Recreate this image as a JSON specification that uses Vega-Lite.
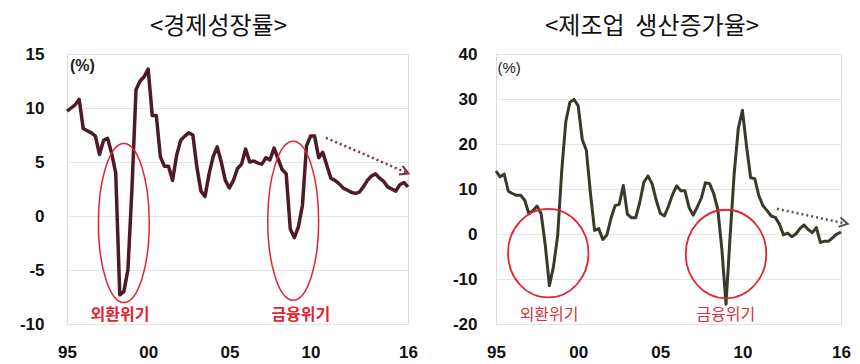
{
  "$schema": "https://vega.github.io/schema/vega-lite/v6.json",
  "background": "white",
  "padding": {"left": 18, "top": 14, "right": 0, "bottom": 0},
  "spacing": 33,
  "config": {
    "view": {"stroke": "#dcdcdc", "strokeWidth": 1},
    "axis": {"title": null, "labelFont": "Liberation Sans", "labelFontWeight": "bold", "labelFontSize": 17, "labelColor": "#111111", "domain": false, "ticks": false, "tickSize": 0},
    "axisX": {"grid": false, "labelPadding": 20, "labelFlush": false},
    "axisY": {"grid": true, "gridColor": "#e4e4e4", "gridWidth": 1, "labelExpr": "toString(datum.value)"}
  },
  "datasets": {
    "gdp": [
      {"t": 1995.00, "v": 9.7}, {"t": 1995.25, "v": 10.0}, {"t": 1995.50, "v": 10.3}, {"t": 1995.75, "v": 10.8},
      {"t": 1996.00, "v": 8.1}, {"t": 1996.25, "v": 7.9}, {"t": 1996.50, "v": 7.7}, {"t": 1996.75, "v": 7.4},
      {"t": 1997.00, "v": 5.7}, {"t": 1997.25, "v": 7.0}, {"t": 1997.50, "v": 7.2}, {"t": 1997.75, "v": 5.8},
      {"t": 1998.00, "v": 4.0}, {"t": 1998.25, "v": -7.3}, {"t": 1998.50, "v": -7.0}, {"t": 1998.75, "v": -5.0},
      {"t": 1999.00, "v": 2.5}, {"t": 1999.25, "v": 11.7}, {"t": 1999.50, "v": 12.5}, {"t": 1999.75, "v": 12.9},
      {"t": 2000.00, "v": 13.6}, {"t": 2000.25, "v": 9.3}, {"t": 2000.50, "v": 9.3}, {"t": 2000.75, "v": 5.5},
      {"t": 2001.00, "v": 4.6}, {"t": 2001.25, "v": 4.6}, {"t": 2001.50, "v": 3.3}, {"t": 2001.75, "v": 5.6},
      {"t": 2002.00, "v": 7.0}, {"t": 2002.25, "v": 7.4}, {"t": 2002.50, "v": 7.7}, {"t": 2002.75, "v": 7.5},
      {"t": 2003.00, "v": 4.5}, {"t": 2003.25, "v": 2.3}, {"t": 2003.50, "v": 1.8}, {"t": 2003.75, "v": 3.9},
      {"t": 2004.00, "v": 5.5}, {"t": 2004.25, "v": 6.4}, {"t": 2004.50, "v": 5.0}, {"t": 2004.75, "v": 3.3},
      {"t": 2005.00, "v": 2.6}, {"t": 2005.25, "v": 3.3}, {"t": 2005.50, "v": 4.4}, {"t": 2005.75, "v": 4.8},
      {"t": 2006.00, "v": 6.2}, {"t": 2006.25, "v": 5.0}, {"t": 2006.50, "v": 5.1}, {"t": 2006.75, "v": 4.9},
      {"t": 2007.00, "v": 4.8}, {"t": 2007.25, "v": 5.4}, {"t": 2007.50, "v": 5.2}, {"t": 2007.75, "v": 6.3},
      {"t": 2008.00, "v": 5.3}, {"t": 2008.25, "v": 4.3}, {"t": 2008.50, "v": 3.9}, {"t": 2008.75, "v": -1.2},
      {"t": 2009.00, "v": -2.0}, {"t": 2009.25, "v": -1.0}, {"t": 2009.50, "v": 1.0}, {"t": 2009.75, "v": 6.5},
      {"t": 2010.00, "v": 7.4}, {"t": 2010.25, "v": 7.4}, {"t": 2010.50, "v": 5.4}, {"t": 2010.75, "v": 5.9},
      {"t": 2011.00, "v": 4.7}, {"t": 2011.25, "v": 3.5}, {"t": 2011.50, "v": 3.3}, {"t": 2011.75, "v": 3.0},
      {"t": 2012.00, "v": 2.6}, {"t": 2012.25, "v": 2.4}, {"t": 2012.50, "v": 2.2}, {"t": 2012.75, "v": 2.1},
      {"t": 2013.00, "v": 2.2}, {"t": 2013.25, "v": 2.7}, {"t": 2013.50, "v": 3.3}, {"t": 2013.75, "v": 3.7},
      {"t": 2014.00, "v": 3.9}, {"t": 2014.25, "v": 3.5}, {"t": 2014.50, "v": 3.2}, {"t": 2014.75, "v": 2.7},
      {"t": 2015.00, "v": 2.5}, {"t": 2015.25, "v": 2.3}, {"t": 2015.50, "v": 2.9}, {"t": 2015.75, "v": 3.1},
      {"t": 2016.00, "v": 2.7}
    ],
    "mfg": [
      {"t": 1995.00, "v": 14.0}, {"t": 1995.25, "v": 12.7}, {"t": 1995.50, "v": 13.3}, {"t": 1995.75, "v": 9.5},
      {"t": 1996.00, "v": 9.0}, {"t": 1996.25, "v": 8.6}, {"t": 1996.50, "v": 8.6}, {"t": 1996.75, "v": 7.5},
      {"t": 1997.00, "v": 4.5}, {"t": 1997.25, "v": 5.2}, {"t": 1997.50, "v": 6.2}, {"t": 1997.75, "v": 4.5},
      {"t": 1998.00, "v": -2.5}, {"t": 1998.25, "v": -11.5}, {"t": 1998.50, "v": -7.2}, {"t": 1998.75, "v": -0.5},
      {"t": 1999.00, "v": 14.0}, {"t": 1999.25, "v": 25.0}, {"t": 1999.50, "v": 29.3}, {"t": 1999.75, "v": 29.9},
      {"t": 2000.00, "v": 28.5}, {"t": 2000.25, "v": 21.0}, {"t": 2000.50, "v": 18.6}, {"t": 2000.75, "v": 9.0},
      {"t": 2001.00, "v": 0.8}, {"t": 2001.25, "v": 1.2}, {"t": 2001.50, "v": -1.2}, {"t": 2001.75, "v": -0.2},
      {"t": 2002.00, "v": 3.5}, {"t": 2002.25, "v": 6.3}, {"t": 2002.50, "v": 6.6}, {"t": 2002.75, "v": 10.8},
      {"t": 2003.00, "v": 4.4}, {"t": 2003.25, "v": 3.6}, {"t": 2003.50, "v": 3.6}, {"t": 2003.75, "v": 7.0},
      {"t": 2004.00, "v": 11.5}, {"t": 2004.25, "v": 12.9}, {"t": 2004.50, "v": 11.2}, {"t": 2004.75, "v": 7.5},
      {"t": 2005.00, "v": 4.6}, {"t": 2005.25, "v": 4.0}, {"t": 2005.50, "v": 6.2}, {"t": 2005.75, "v": 8.8},
      {"t": 2006.00, "v": 10.7}, {"t": 2006.25, "v": 9.6}, {"t": 2006.50, "v": 9.6}, {"t": 2006.75, "v": 5.9},
      {"t": 2007.00, "v": 4.2}, {"t": 2007.25, "v": 6.0}, {"t": 2007.50, "v": 8.0}, {"t": 2007.75, "v": 11.4},
      {"t": 2008.00, "v": 11.2}, {"t": 2008.25, "v": 9.0}, {"t": 2008.50, "v": 5.5}, {"t": 2008.75, "v": -3.4},
      {"t": 2009.00, "v": -15.6}, {"t": 2009.25, "v": -0.5}, {"t": 2009.50, "v": 13.5}, {"t": 2009.75, "v": 23.5},
      {"t": 2010.00, "v": 27.5}, {"t": 2010.25, "v": 19.5}, {"t": 2010.50, "v": 12.5}, {"t": 2010.75, "v": 12.3},
      {"t": 2011.00, "v": 8.5}, {"t": 2011.25, "v": 6.3}, {"t": 2011.50, "v": 5.2}, {"t": 2011.75, "v": 4.0},
      {"t": 2012.00, "v": 3.7}, {"t": 2012.25, "v": 2.2}, {"t": 2012.50, "v": -0.2}, {"t": 2012.75, "v": 0.2},
      {"t": 2013.00, "v": -0.6}, {"t": 2013.25, "v": 0.0}, {"t": 2013.50, "v": 1.2}, {"t": 2013.75, "v": 2.0},
      {"t": 2014.00, "v": 1.0}, {"t": 2014.25, "v": 0.3}, {"t": 2014.50, "v": 1.4}, {"t": 2014.75, "v": -1.9},
      {"t": 2015.00, "v": -1.6}, {"t": 2015.25, "v": -1.6}, {"t": 2015.50, "v": -0.8}, {"t": 2015.75, "v": 0.0},
      {"t": 2016.00, "v": 0.4}
    ],
    "gdpCircle": [{"t": 1998.50, "v": -0.65}, {"t": 2008.93, "v": -0.45}],
    "gdpLabel": [{"t": 1998.26, "v": -9.19, "text": "외환위기"}, {"t": 2009.40, "v": -9.19, "text": "금융위기"}],
    "gdpArrow": [{"t": 2010.95, "v": 7.24, "t2": 2015.94, "v2": 4.0}],
    "gdpHead": [{"t": 2015.85, "v": 4.05}],
    "gdpUnit": [{"t": 1995.18, "v": 13.88, "text": "(%)"}],
    "mfgCircle": [{"t": 1998.18, "v": -4.27}, {"t": 2009.0, "v": -4.44}],
    "mfgLabel": [{"t": 1998.23, "v": -18.1, "text": "외환위기"}, {"t": 2008.98, "v": -18.1, "text": "금융위기"}],
    "mfgArrow": [{"t": 2012.1, "v": 5.6, "t2": 2016.3, "v2": 2.3}],
    "mfgHead": [{"t": 2016.22, "v": 2.4}],
    "mfgUnit": [{"t": 1995.09, "v": 36.8, "text": "(%)"}]
  },
  "hconcat": [
    {
      "width": 341,
      "height": 270,
      "title": {"text": "<경제성장률>", "font": "Noto Sans CJK KR", "fontSize": 24, "fontWeight": "normal", "color": "#111111", "frame": "bounds", "anchor": "middle", "offset": 6},
      "encoding": {
        "x": {"field": "t", "type": "quantitative", "scale": {"domain": [1995, 2016], "nice": false, "zero": false}, "axis": {"values": [1995, 2000, 2005, 2010, 2016], "labelExpr": "substring(toString(datum.value), 2, 4)"}},
        "y": {"field": "v", "type": "quantitative", "scale": {"domain": [-10, 15], "nice": false}, "axis": {"values": [-10, -5, 0, 5, 10, 15], "labelPadding": 23}}
      },
      "layer": [
        {"mark": {"type": "rule", "color": "#8a8a8a", "strokeWidth": 1}, "encoding": {"y": {"datum": 0}, "x": null}},
        {"data": {"name": "gdp"}, "mark": {"type": "line", "color": "#4e1b24", "strokeWidth": 3.5, "strokeJoin": "round"}},
        {"data": {"name": "gdpCircle"}, "mark": {"type": "point", "filled": false, "stroke": "#e3242f", "strokeWidth": 1.5, "opacity": 1, "size": 25281, "shape": "M 0 -1 A 0.32 1 0 1 1 0 1 A 0.32 1 0 1 1 0 -1 Z"}},
        {"data": {"name": "gdpLabel"}, "mark": {"type": "text", "font": "Noto Sans CJK KR", "fontSize": 16, "fontWeight": "bold", "color": "#e3242f", "align": "center", "baseline": "middle"}, "encoding": {"text": {"field": "text"}}},
        {"data": {"name": "gdpUnit"}, "mark": {"type": "text", "font": "Liberation Sans", "fontSize": 16, "fontWeight": "bold", "color": "#222222", "align": "left", "baseline": "middle"}, "encoding": {"text": {"field": "text"}}},
        {"data": {"name": "gdpArrow"}, "mark": {"type": "rule", "color": "#7a3040", "strokeWidth": 2.5, "strokeDash": [2, 3], "clip": false}, "encoding": {"x2": {"field": "t2"}, "y2": {"field": "v2"}}},
        {"data": {"name": "gdpHead"}, "mark": {"type": "point", "filled": false, "stroke": "#7a3040", "strokeWidth": 2, "opacity": 1, "size": 110, "angle": 23, "shape": "M -1 -0.9 L 0.6 0 L -1 0.9"}}
      ]
    },
    {
      "width": 345,
      "height": 270,
      "title": {"text": "<제조업\u00a0\u00a0생산증가율>", "font": "Noto Sans CJK KR", "fontSize": 24, "fontWeight": "normal", "color": "#111111", "frame": "bounds", "anchor": "middle", "offset": 6},
      "encoding": {
        "x": {"field": "t", "type": "quantitative", "scale": {"domain": [1995, 2016], "nice": false, "zero": false}, "axis": {"values": [1995, 2000, 2005, 2010, 2016], "labelExpr": "substring(toString(datum.value), 2, 4)"}},
        "y": {"field": "v", "type": "quantitative", "scale": {"domain": [-20, 40], "nice": false}, "axis": {"values": [-20, -10, 0, 10, 20, 30, 40], "labelPadding": 19}}
      },
      "layer": [
        {"mark": {"type": "rule", "color": "#6a6a6a", "strokeWidth": 1}, "encoding": {"y": {"datum": 0}, "x": null}},
        {"data": {"name": "mfg"}, "mark": {"type": "line", "color": "#3a3a2a", "strokeWidth": 3, "strokeJoin": "round"}},
        {"data": {"name": "mfgCircle"}, "mark": {"type": "point", "filled": false, "stroke": "#e3242f", "strokeWidth": 1.8, "opacity": 1, "size": 7832, "shape": "M 0 -1 A 0.91 1 0 1 1 0 1 A 0.91 1 0 1 1 0 -1 Z"}},
        {"data": {"name": "mfgLabel"}, "mark": {"type": "text", "font": "Noto Sans CJK KR", "fontSize": 16, "fontWeight": "normal", "color": "#d8303f", "align": "center", "baseline": "middle"}, "encoding": {"text": {"field": "text"}}},
        {"data": {"name": "mfgUnit"}, "mark": {"type": "text", "font": "Liberation Sans", "fontSize": 15, "fontWeight": "normal", "color": "#222222", "align": "left", "baseline": "middle"}, "encoding": {"text": {"field": "text"}}},
        {"data": {"name": "mfgArrow"}, "mark": {"type": "rule", "color": "#555555", "strokeWidth": 2.5, "strokeDash": [2, 3], "clip": false}, "encoding": {"x2": {"field": "t2"}, "y2": {"field": "v2"}}},
        {"data": {"name": "mfgHead"}, "mark": {"type": "point", "filled": false, "stroke": "#555555", "strokeWidth": 2, "opacity": 1, "size": 110, "angle": 12, "shape": "M -1 -0.9 L 0.6 0 L -1 0.9", "clip": false}}
      ]
    }
  ]
}
